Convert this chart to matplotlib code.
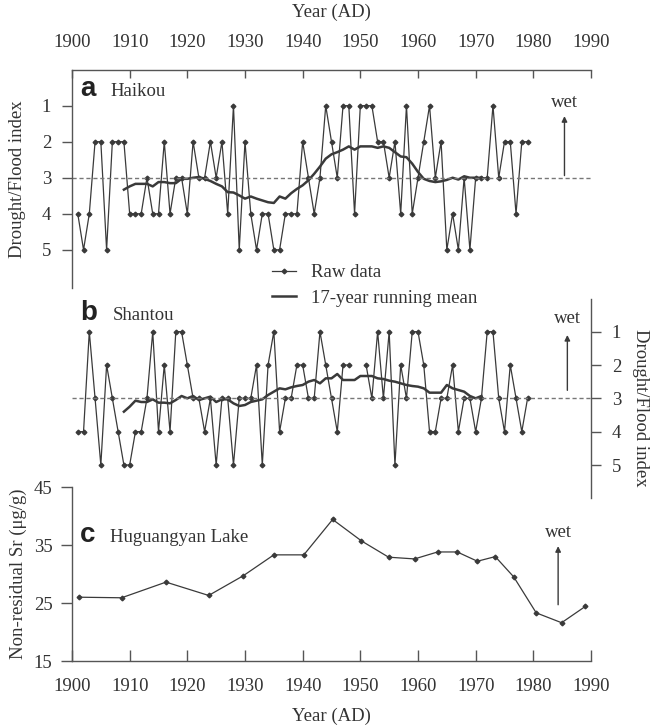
import numpy as np
import matplotlib
matplotlib.use('Agg')
import matplotlib.pyplot as plt

plt.rcParams['font.family'] = ['Liberation Serif', 'DejaVu Serif']
plt.rcParams['font.size'] = 13.5

# Drought/Flood index, raw data (1901-1979)
years = np.arange(1901, 1980)
haikou = [4, 5, 4, 2, 2, 5, 2, 2, 2,
          4, 4, 4, 3, 4, 4, 2, 4, 3, 3,
          4, 2, 3, 3, 2, 3, 2, 4, 1, 5,
          2, 4, 5, 4, 4, 5, 5, 4, 4, 4,
          2, 3, 4, 3, 1, 2, 3, 1, 1, 4,
          1, 1, 1, 2, 2, 3, 2, 4, 1, 4,
          3, 2, 1, 3, 2, 5, 4, 5, 3, 5,
          3, 3, 3, 1, 3, 2, 2, 4, 2, 2]
shantou = [4, 4, 1, 3, 5, 2, 3, 4, 5,
           5, 4, 4, 3, 1, 4, 2, 4, 1, 1,
           2, 3, 3, 4, 3, 5, 3, 3, 5, 3,
           3, 3, 2, 5, 2, 1, 4, 3, 3, 2,
           2, 3, 3, 1, 2, 3, 4, 2, 2, np.nan,
           np.nan, 2, 3, 1, 3, 1, 5, 2, 3, 1,
           1, 2, 4, 4, 3, 3, 2, 4, 3, 3,
           4, 3, 1, 1, 3, 4, 2, 3, 4, 3]

# 17-year running mean (1909-1971)
mean_years = np.arange(1909, 1972)
haikou_mean = [3.33, 3.24, 3.17, 3.17, 3.17, 3.24, 3.12, 3.12, 3.15, 3.15,
               3.03, 3.03, 3.00, 2.98, 3.03, 3.09, 3.17, 3.24, 3.40, 3.41,
               3.49, 3.58, 3.52, 3.58, 3.63, 3.68, 3.70, 3.52, 3.58, 3.43,
               3.31, 3.21, 3.07, 2.89, 2.69, 2.47, 2.35, 2.29, 2.22, 2.13,
               2.22, 2.13, 2.13, 2.13, 2.17, 2.13, 2.17, 2.29, 2.41, 2.43,
               2.61, 2.84, 3.03, 3.09, 3.12, 3.10, 3.06, 3.00, 3.05, 2.96,
               3.00, 3.00, 3.00]
shantou_mean = [3.40, 3.25, 3.07, 3.11, 3.11, 3.03, 3.13, 3.13, 3.15, 3.05,
                2.93, 3.00, 2.93, 3.05, 3.00, 2.95, 3.11, 3.03, 3.03, 3.15,
                3.23, 3.20, 3.11, 3.07, 3.03, 2.90, 2.80, 2.70, 2.73, 2.67,
                2.63, 2.60, 2.50, 2.45, 2.55, 2.40, 2.40, 2.27, 2.45, 2.45,
                2.45, 2.33, 2.33, 2.33, 2.40, 2.42, 2.47, 2.50, 2.55, 2.60,
                2.63, 2.65, 2.70, 2.83, 2.83, 2.83, 2.60, 2.70, 2.75, 2.80,
                2.93, 3.00, 2.93]

# Huguangyan Lake non-residual Sr
sr_years = [1901.2, 1908.6, 1916.3, 1923.7, 1929.7, 1935.0, 1940.2, 1945.2,
            1950.2, 1954.9, 1959.4, 1963.4, 1966.8, 1970.3, 1973.4, 1976.6,
            1980.5, 1984.9, 1989.0]
sr_values = [26.0, 25.9, 28.6, 26.3, 29.7, 33.3, 33.3, 39.4, 35.7, 32.9,
             32.6, 33.8, 33.8, 32.2, 33.0, 29.5, 23.3, 21.6, 24.4]

decades = np.arange(1900, 2000, 10)

W, H = 654, 727
ink = '#3a3a3a'
txt = '#333333'
axc = '#555555'


def rect(l, t, r, b):
    return [l / W, 1 - b / H, (r - l) / W, (b - t) / H]


def fx(x):
    return x / W


def fy(y):
    return 1 - y / H


fig = plt.figure(figsize=(W / 100, H / 100), dpi=100)
ax_a = fig.add_axes(rect(72, 70, 591, 288))
ax_b = fig.add_axes(rect(72, 299, 591, 498))
ax_c = fig.add_axes(rect(72, 487, 591, 661))

for ax in (ax_a, ax_b, ax_c):
    ax.set_facecolor('none')
    ax.set_xlim(1900, 1990)
    for s in ax.spines.values():
        s.set_color(axc)
        s.set_linewidth(1.0)
    ax.tick_params(colors=axc, labelcolor=txt, width=1.0)

# panel a
raw_a, = ax_a.plot(years, haikou, color=ink, lw=0.9, marker='D', ms=2.4,
                   label='Raw data')
mean_a, = ax_a.plot(mean_years, haikou_mean, color=ink, lw=1.8,
                    label='17-year running mean')
ax_a.axhline(3, color='#777777', lw=1.0, ls=(0, (3, 2)))
ax_a.set_ylim(6.06, 0.01)
ax_a.set_yticks([1, 2, 3, 4, 5])
ax_a.set_xticks(decades)
ax_a.spines['right'].set_visible(False)
ax_a.spines['bottom'].set_visible(False)
ax_a.tick_params(axis='x', top=True, bottom=False, labeltop=True,
                 labelbottom=False, direction='in', length=6, pad=14)
ax_a.tick_params(axis='y', direction='out', length=7, pad=8)
ax_a.annotate('', xy=(1985.4, 1.29), xytext=(1985.4, 2.94),
              arrowprops=dict(arrowstyle='-|>', color=ink, lw=1.0,
                              mutation_scale=8, shrinkA=0, shrinkB=0))
ax_a.text(1985.4, 0.92, 'wet', ha='center', va='center', color=txt)

# panel b
ax_b.plot(years, shantou, color=ink, lw=0.9, marker='D', ms=2.4)
ax_b.plot(mean_years, shantou_mean, color=ink, lw=1.8)
ax_b.axhline(3, color='#777777', lw=1.0, ls=(0, (3, 2)))
ax_b.set_ylim(5.99, 0.02)
ax_b.set_yticks([1, 2, 3, 4, 5])
ax_b.set_xticks([])
for s in ('left', 'top', 'bottom'):
    ax_b.spines[s].set_visible(False)
ax_b.yaxis.tick_right()
ax_b.tick_params(axis='y', direction='out', length=7, pad=8)
ax_b.annotate('', xy=(1985.9, 1.1), xytext=(1985.9, 2.76),
              arrowprops=dict(arrowstyle='-|>', color=ink, lw=1.0,
                              mutation_scale=8, shrinkA=0, shrinkB=0))
ax_b.text(1985.9, 0.6, 'wet', ha='center', va='center', color=txt)

# panel c
ax_c.plot(sr_years, sr_values, color=ink, lw=0.9, marker='D', ms=2.4)
ax_c.set_ylim(15, 45)
ax_c.set_yticks([15, 25, 35, 45])
ax_c.set_xticks(decades)
ax_c.spines['right'].set_visible(False)
ax_c.spines['top'].set_visible(False)
ax_c.tick_params(axis='x', direction='in', length=8, pad=12)
ax_c.tick_params(axis='y', direction='out', length=8, pad=6)
ax_c.annotate('', xy=(1984.3, 34.8), xytext=(1984.3, 24.7),
              arrowprops=dict(arrowstyle='-|>', color=ink, lw=1.0,
                              mutation_scale=8, shrinkA=0, shrinkB=0))
ax_c.text(1984.3, 37.1, 'wet', ha='center', va='center', color=txt)

# legend
fig.legend(handles=[raw_a, mean_a], loc='upper left',
           bbox_to_anchor=(fx(272), fy(264)), frameon=False,
           handlelength=1.3, handletextpad=0.8, labelspacing=0.45,
           borderpad=0, borderaxespad=0, labelcolor=txt)

# panel titles
bold = dict(family=['Liberation Sans', 'DejaVu Sans'], weight='bold',
            size=20, color='#222222', va='center')
fig.text(fx(80), fy(89), 'a', **bold)
fig.text(fx(110), fy(92), 'Haikou', color=txt, va='center')
fig.text(fx(80), fy(313), 'b', **bold)
fig.text(fx(113), fy(316), 'Shantou', color=txt, va='center')
fig.text(fx(80), fy(535), 'c', **bold)
fig.text(fx(110), fy(537), 'Huguangyan Lake', color=txt, va='center')

# axis labels
fig.text(fx(331), fy(12), 'Year (AD)', ha='center', va='center', color=txt)
fig.text(fx(331), fy(716), 'Year (AD)', ha='center', va='center', color=txt)
fig.text(fx(18), fy(179), 'Drought/Flood index', rotation=90,
         ha='center', va='center', color=txt)
fig.text(fx(640), fy(408), 'Drought/Flood index', rotation=270,
         ha='center', va='center', color=txt)
fig.text(fx(18), fy(574), 'Non-residual Sr (\u03bcg/g)', rotation=90,
         ha='center', va='center', color=txt)

fig.savefig('out.png', dpi=100)
